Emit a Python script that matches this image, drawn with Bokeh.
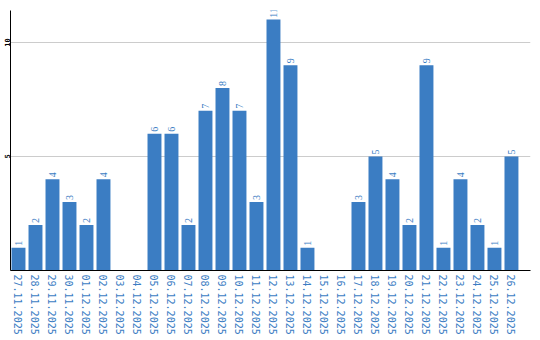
import math
from bokeh.plotting import figure
from bokeh.models import ColumnDataSource, FixedTicker, LabelSet, Range1d
from bokeh.embed import file_html
from bokeh.resources import INLINE

dates = ["27.11.2025", "28.11.2025", "29.11.2025", "30.11.2025", "01.12.2025",
         "02.12.2025", "03.12.2025", "04.12.2025", "05.12.2025", "06.12.2025",
         "07.12.2025", "08.12.2025", "09.12.2025", "10.12.2025", "11.12.2025",
         "12.12.2025", "13.12.2025", "14.12.2025", "15.12.2025", "16.12.2025",
         "17.12.2025", "18.12.2025", "19.12.2025", "20.12.2025", "21.12.2025",
         "22.12.2025", "23.12.2025", "24.12.2025", "25.12.2025", "26.12.2025"]
counts = [1, 2, 4, 3, 2, 4, 0, 0, 6, 6, 2, 7, 8, 7, 3, 11, 9, 1, 0, 0,
          3, 5, 4, 2, 9, 1, 4, 2, 1, 5]
y_ticks = [5, 10]

BLUE = "#3b7dc3"
xs = list(range(len(dates)))
src = ColumnDataSource(dict(x=xs, top=counts,
                            lbl=[str(c) if c > 0 else "" for c in counts]))

p = figure(width=540, height=340, output_backend="svg", toolbar_location=None,
           x_range=Range1d(-0.47, 30.12), y_range=Range1d(0, 11.4),
           min_border_left=10, min_border_right=10, min_border_top=10,
           min_border_bottom=70)
p.outline_line_color = None
p.background_fill_color = "white"

p.vbar(x="x", top="top", width=0.82, source=src, fill_color=BLUE,
       line_color=None)

labels = LabelSet(x="x", y="top", text="lbl", source=src, angle=math.pi / 2,
                  text_align="left", text_baseline="middle", x_offset=0.5,
                  y_offset=2, text_color=BLUE, text_font="Liberation Mono",
                  text_font_size="10px")
p.add_layout(labels)

p.xgrid.grid_line_color = None
p.ygrid.ticker = FixedTicker(ticks=y_ticks)
p.ygrid.grid_line_color = "#cccccc"

p.xaxis.ticker = FixedTicker(ticks=xs)
p.xaxis.major_label_overrides = {i: d for i, d in enumerate(dates)}
p.xaxis.major_label_orientation = "vertical"
p.xaxis.major_label_text_font = "DejaVu Sans Mono"
p.xaxis.major_label_text_font_size = "10px"
p.xaxis.major_label_text_color = BLUE
p.xaxis.major_label_standoff = 4
p.xaxis.major_tick_out = 0
p.xaxis.major_tick_in = 0
p.xaxis.minor_tick_out = 0
p.xaxis.minor_tick_in = 0
p.xaxis.major_tick_line_color = None
p.xaxis.minor_tick_line_color = None
p.xaxis.axis_line_color = "black"

p.yaxis.ticker = FixedTicker(ticks=y_ticks)
p.yaxis.major_label_orientation = "vertical"
p.yaxis.major_label_text_font = "DejaVu Sans Mono"
p.yaxis.major_label_text_font_size = "7px"
p.yaxis.major_label_text_font_style = "bold"
p.yaxis.major_label_text_color = "black"
p.yaxis.major_label_standoff = 0
p.yaxis.major_tick_out = 0
p.yaxis.major_tick_in = 0
p.yaxis.minor_tick_out = 0
p.yaxis.minor_tick_in = 0
p.yaxis.major_tick_line_color = None
p.yaxis.minor_tick_line_color = None
p.yaxis.axis_line_color = "black"

open("out.html", "w").write(file_html(p, INLINE))
